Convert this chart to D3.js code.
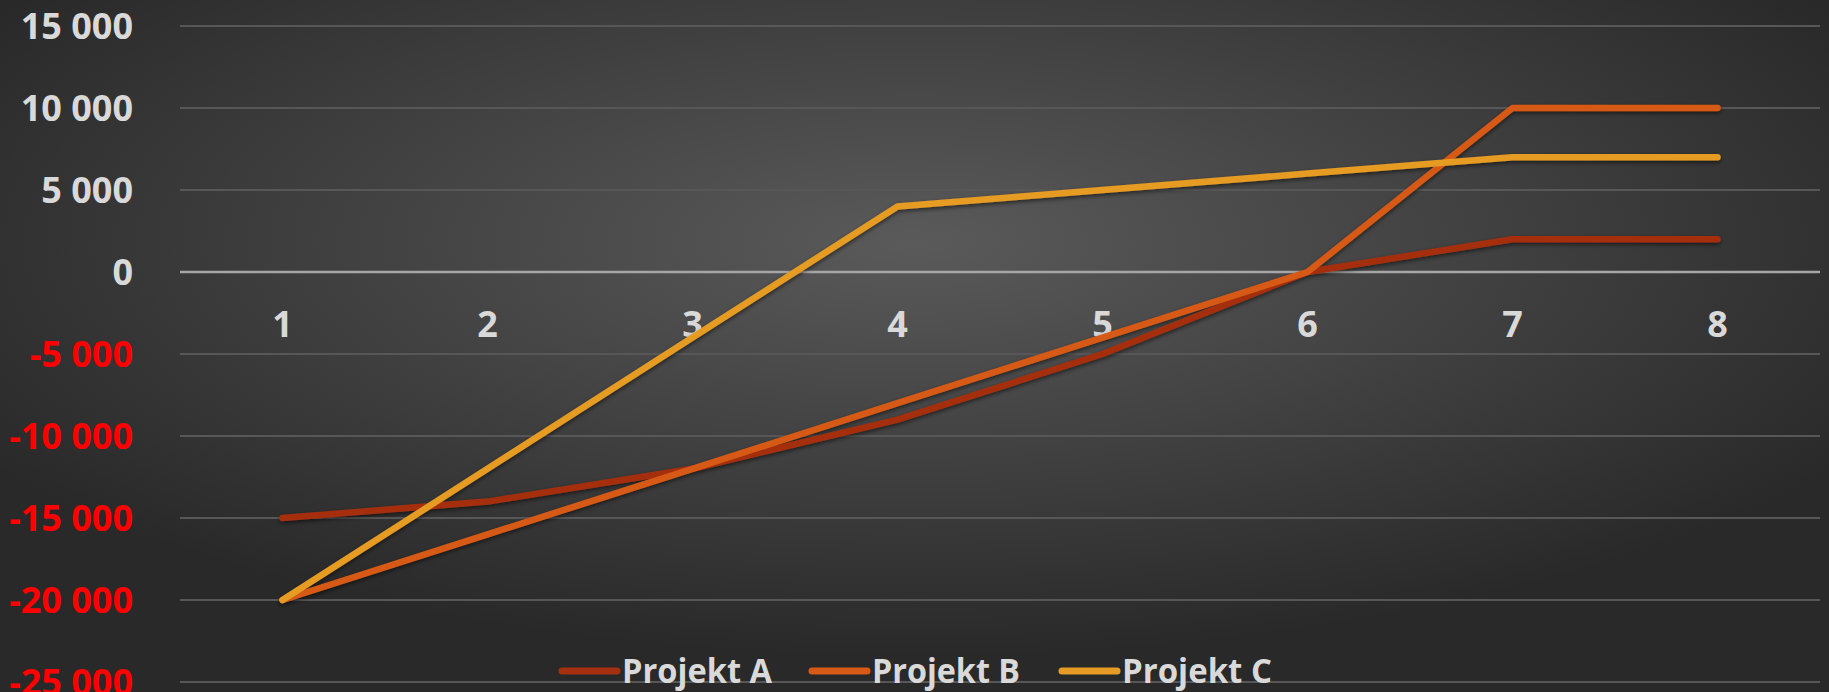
<!DOCTYPE html>
<html>
<head>
<meta charset="utf-8">
<script src="https://cdn.jsdelivr.net/npm/d3@7"></script>
<style>
  html, body { margin: 0; padding: 0; background: #2a2a2a; }
  svg { display: block; }
</style>
</head>
<body>
<svg id="svgcanvas"></svg>
<script>

// data
var categories = [1, 2, 3, 4, 5, 6, 7, 8];
var seriesNames = ["Projekt A", "Projekt B", "Projekt C"];
var projektA = [-15000, -14000, -12000, -9000, -5000, 0, 2000, 2000];
var projektB = [-20000, -16000, -12000, -8000, -4000, 0, 10000, 10000];
var projektC = [-20000, -12000, -4000, 4000, 5000, 6000, 7000, 7000];
var yTicks = [15000, 10000, 5000, 0, -5000, -10000, -15000, -20000, -25000];

var colors = ["#a52f0f", "#d65a16", "#e69b24"];

var width = 1829, height = 692;
var svg = d3.select("#svgcanvas").attr("width", width).attr("height", height);

// background
var defs = svg.append("defs");
var grad = defs.append("radialGradient").attr("id", "bg")
  .attr("cx", "50%").attr("cy", "35%").attr("r", "60%");
grad.append("stop").attr("offset", "0%").attr("stop-color", "#5a5a5a");
grad.append("stop").attr("offset", "100%").attr("stop-color", "#292929");

var shadow = defs.append("filter").attr("id", "shadow")
  .attr("x", "-5%").attr("y", "-20%").attr("width", "110%").attr("height", "140%");
shadow.append("feDropShadow")
  .attr("dx", 0).attr("dy", 2).attr("stdDeviation", 2)
  .attr("flood-color", "#000").attr("flood-opacity", 0.55);

svg.append("rect").attr("width", width).attr("height", height).attr("fill", "url(#bg)");

// scales
var x = d3.scaleBand().domain(categories).range([180, 1820]);
var y = d3.scaleLinear().domain([-25000, 15000]).range([682, 26]);

function fmt(v) {
  var s = d3.format(",")(v).replace(/,/g, " ");
  return s.replace("−", "-");
}

// gridlines
svg.append("g").selectAll("line")
  .data(yTicks.filter(function(d) { return d !== 0; }))
  .enter().append("line")
  .attr("x1", 180).attr("x2", 1820)
  .attr("y1", function(d) { return y(d); })
  .attr("y2", function(d) { return y(d); })
  .attr("stroke", "#575757").attr("stroke-width", 2);

// y labels
svg.append("g").selectAll("text")
  .data(yTicks)
  .enter().append("text")
  .attr("x", 133)
  .attr("y", function(d) { return y(d); })
  .attr("dy", "0.36em")
  .attr("text-anchor", "end")
  .attr("font-family", "'Open Sans', sans-serif")
  .attr("font-weight", 700)
  .attr("font-size", 36)
  .attr("fill", function(d) { return d < 0 ? "#ff0000" : "#d9d9d9"; })
  .text(function(d) { return fmt(d); });

// zero axis
svg.append("line")
  .attr("x1", 180).attr("x2", 1820)
  .attr("y1", y(0)).attr("y2", y(0))
  .attr("stroke", "#a6a6a6").attr("stroke-width", 2.5);

// x labels
svg.append("g").selectAll("text")
  .data(categories)
  .enter().append("text")
  .attr("x", function(d) { return x(d) + x.bandwidth() / 2; })
  .attr("y", 337)
  .attr("text-anchor", "middle")
  .attr("font-family", "'Open Sans', sans-serif")
  .attr("font-weight", 700)
  .attr("font-size", 36)
  .attr("fill", "#d9d9d9")
  .text(function(d) { return d; });

// lines
var series = [projektA, projektB, projektC];
var line = d3.line()
  .x(function(d, i) { return x(categories[i]) + x.bandwidth() / 2; })
  .y(function(d) { return y(d); });

svg.append("g").attr("filter", "url(#shadow)").selectAll("path")
  .data(series)
  .enter().append("path")
  .attr("d", line)
  .attr("fill", "none")
  .attr("stroke", function(d, i) { return colors[i]; })
  .attr("stroke-width", 6.5)
  .attr("stroke-linecap", "round")
  .attr("stroke-linejoin", "round");

// legend
var legendX = [562, 812, 1062];
var legend = svg.append("g").selectAll("g")
  .data(seriesNames)
  .enter().append("g")
  .attr("transform", function(d, i) { return "translate(" + legendX[i] + ",0)"; });

legend.append("line")
  .attr("x1", 0).attr("x2", 55)
  .attr("y1", 671).attr("y2", 671)
  .attr("stroke", function(d, i) { return colors[i]; })
  .attr("stroke-width", 7)
  .attr("stroke-linecap", "round");

legend.append("text")
  .attr("x", 60)
  .attr("y", 683)
  .attr("font-family", "'Open Sans', sans-serif")
  .attr("font-weight", 700)
  .attr("font-size", 34)
  .attr("textLength", function(d, i) { return i === 1 ? 148 : 150; })
  .attr("lengthAdjust", "spacingAndGlyphs")
  .attr("fill", "#d9d9d9")
  .text(function(d) { return d; });

</script>
</body>
</html>
